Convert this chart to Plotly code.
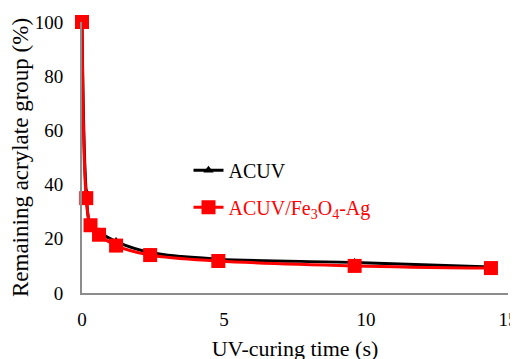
import plotly.graph_objects as go

time_s = [0, 0.15, 0.3, 0.6, 1.2, 2.4, 4.8, 9.6, 14.4]
acuv = [100, 37, 25, 22.5, 19, 15, 12.5, 11.3, 9.6]
acuv_fe3o4_ag = [100, 35, 25, 21.5, 17.5, 14, 11.8, 10, 9.2]

FONT = "Liberation Serif, Times New Roman, serif"

fig = go.Figure()
fig.add_trace(go.Scatter(
    x=time_s, y=acuv, name="ACUV", mode="lines+markers",
    line=dict(color="black", width=3, shape="spline", smoothing=1),
    marker=dict(symbol="triangle-up", size=9, color="black"),
    cliponaxis=False, legendgroup="a",
))
fig.add_trace(go.Scatter(
    x=time_s, y=acuv_fe3o4_ag,
    name='<span style="color:#ff0000">ACUV/Fe<sub>3</sub>O<sub>4</sub>-Ag</span>',
    mode="lines+markers",
    line=dict(color="#ff0000", width=3, shape="spline", smoothing=1),
    marker=dict(symbol="square", size=14, color="#ff0000"),
    cliponaxis=False, legendgroup="b",
))

fig.update_layout(
    width=518, height=359,
    margin=dict(l=74, r=18, t=14, b=74, autoexpand=False),
    paper_bgcolor="white", plot_bgcolor="white",
    font=dict(family=FONT, color="black", size=19),
    showlegend=True,
    legend=dict(x=0.25, y=0.525, xanchor="left", yanchor="top",
                font=dict(size=20, family=FONT, color="black"),
                bgcolor="rgba(0,0,0,0)", traceorder="grouped",
                tracegroupgap=8),
    xaxis=dict(range=[0, 15], tickvals=[0, 5, 10, 15],
               showgrid=False, zeroline=False, automargin=False,
               showline=True, linecolor="#8c8c8c", linewidth=2,
               ticks="outside", ticklen=8, tickcolor="rgba(0,0,0,0)",
               tickfont=dict(size=19, family=FONT),
               title=dict(text="UV-curing time (s)", font=dict(size=22, family=FONT), standoff=12)),
    yaxis=dict(range=[0, 100], tickvals=[0, 20, 40, 60, 80, 100],
               showgrid=False, zeroline=False, automargin=True,
               showline=True, linecolor="#8c8c8c", linewidth=2,
               ticks="outside", ticklen=13, tickcolor="rgba(0,0,0,0)",
               tickfont=dict(size=19, family=FONT),
               title=dict(text="Remaining acrylate group (%)", font=dict(size=23, family=FONT), standoff=3)),
)

fig.write_html("out.html")
